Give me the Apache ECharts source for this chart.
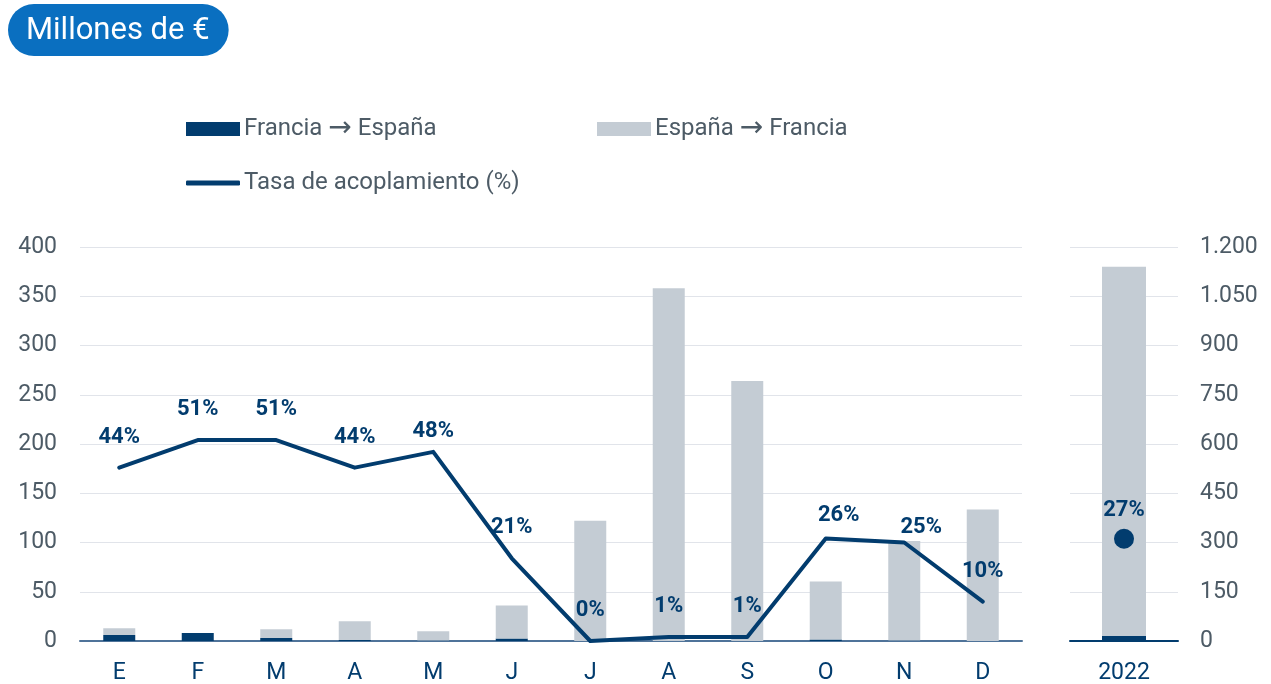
<!DOCTYPE html>
<html>
<head>
<meta charset="utf-8">
<script src="https://cdn.jsdelivr.net/npm/echarts@6/dist/echarts.min.js"></script>
<style>
  html, body { margin: 0; padding: 0; background: #fff; }
  #chart { width: 1271px; height: 684px; }
</style>
</head>
<body>
<div id="chart"></div>
<script>
const months = ['E', 'F', 'M', 'A', 'M', 'J', 'J', 'A', 'S', 'O', 'N', 'D']
const franciaEspana = [6, 8, 3, 1, 0.5, 2.5, 0, 0, 0, 1.5, 0.5, 0]
const espanaFrancia = [7, 0, 9, 19, 9.5, 33.5, 122, 358, 264, 59, 101, 133.5]
const tasa = [44, 51, 51, 44, 48, 21, 0, 1, 1, 26, 25, 10]
const leftTicks = { min: 0, max: 400, interval: 50 }

const yearCat = ['2022']
const franciaEspanaYear = [16]
const espanaFranciaYear = [1124]
const tasaYear = [27]
const rightTicks = { min: 0, max: 1200, interval: 150 }

const dark = '#023c6e'
const grey = '#c4ccd4'
const textGrey = '#4d5b66'
const fmtThousands = v => String(v).replace(/\B(?=(\d{3})+(?!\d))/g, '.')

// a few labels sit off their default place in the original
const labelNudge = { 4: [0, 10], 9: [13, 7], 10: [17, 15] }

const legendText = {
  color: textGrey,
  fontSize: 24,
  lineHeight: 28,
  padding: [0, 0, 0, -1],
  rich: { arr: { fontFamily: 'DejaVu Sans', fontSize: 28, lineHeight: 28, color: textGrey } }
}
const arrowFmt = name => name.replace('→', '{arr|→}')

const chart = echarts.init(document.getElementById('chart'))
chart.setOption({
  textStyle: { fontFamily: 'Roboto' },
  title: {
    text: 'Millones de €',
    left: 8,
    top: 4,
    padding: [9, 19, 7, 18],
    backgroundColor: '#0a6fc0',
    borderRadius: 26,
    textStyle: { color: '#fff', fontSize: 31, fontWeight: 'normal', lineHeight: 36, fontFamily: 'Roboto' }
  },
  legend: [{
    left: 186, top: 115, padding: 0, itemWidth: 54, itemHeight: 14, itemGap: 0,
    data: [{ name: 'Francia → España', icon: 'rect' }],
    formatter: arrowFmt,
    textStyle: legendText
  }, {
    left: 597, top: 115, padding: 0, itemWidth: 54, itemHeight: 14, itemGap: 0,
    data: [{ name: 'España → Francia', icon: 'rect' }],
    formatter: arrowFmt,
    textStyle: legendText
  }, {
    left: 186, top: 169, padding: 0, itemWidth: 54, itemHeight: 5, itemGap: 0,
    data: [{ name: 'Tasa de acoplamiento (%)', icon: 'roundRect' }],
    textStyle: legendText
  }],
  grid: [
    { left: 80, right: 249, top: 247, bottom: 43, outerBoundsMode: 'none', containLabel: false },
    { left: 1070, width: 108, top: 247, bottom: 43, outerBoundsMode: 'none', containLabel: false }
  ],
  xAxis: [{
    gridIndex: 0,
    type: 'category',
    data: months,
    axisTick: { show: false },
    axisLine: { lineStyle: { color: '#4f7399', width: 2 } },
    axisLabel: { color: dark, fontSize: 23, margin: 21 }
  }, {
    gridIndex: 1,
    type: 'category',
    data: yearCat,
    axisTick: { show: false },
    axisLine: { lineStyle: { color: dark, width: 2 } },
    axisLabel: { color: dark, fontSize: 23, margin: 21 }
  }],
  yAxis: [{
    gridIndex: 0,
    type: 'value',
    ...leftTicks,
    axisLabel: { color: textGrey, fontSize: 23, margin: 23 },
    splitLine: { lineStyle: { color: '#e1e4ea' } }
  }, {
    gridIndex: 0,
    type: 'value',
    min: 0, max: 100,
    show: false,
    splitLine: { show: false }
  }, {
    gridIndex: 1,
    type: 'value',
    position: 'right',
    ...rightTicks,
    axisLabel: { color: textGrey, fontSize: 23, margin: 22, formatter: fmtThousands },
    splitLine: { lineStyle: { color: '#e1e4ea' } }
  }, {
    gridIndex: 1,
    type: 'value',
    min: 0, max: 104,
    show: false,
    splitLine: { show: false }
  }],
  series: [{
    name: 'Francia → España',
    type: 'bar',
    xAxisIndex: 0, yAxisIndex: 0,
    stack: 'mes',
    barWidth: 32,
    data: franciaEspana,
    itemStyle: { color: dark }
  }, {
    name: 'España → Francia',
    type: 'bar',
    xAxisIndex: 0, yAxisIndex: 0,
    stack: 'mes',
    barWidth: 32,
    data: espanaFrancia,
    itemStyle: { color: grey }
  }, {
    name: 'Tasa de acoplamiento (%)',
    type: 'line',
    xAxisIndex: 0, yAxisIndex: 1,
    data: tasa.map((v, i) => labelNudge[i] ? { value: v, label: { offset: labelNudge[i] } } : v),
    symbol: 'circle',
    symbolSize: 1,
    lineStyle: { color: dark, width: 4, cap: 'round', join: 'round' },
    itemStyle: { color: dark },
    label: {
      show: true,
      position: 'top',
      distance: 19,
      color: dark,
      fontSize: 22,
      fontWeight: 'bold',
      formatter: p => p.value + '%'
    },
    z: 5
  }, {
    name: 'Francia → España',
    type: 'bar',
    xAxisIndex: 1, yAxisIndex: 2,
    stack: 'year',
    barWidth: 44,
    data: franciaEspanaYear,
    itemStyle: { color: dark }
  }, {
    name: 'España → Francia',
    type: 'bar',
    xAxisIndex: 1, yAxisIndex: 2,
    stack: 'year',
    barWidth: 44,
    data: espanaFranciaYear,
    itemStyle: { color: grey }
  }, {
    name: 'Tasa de acoplamiento (%)',
    type: 'scatter',
    xAxisIndex: 1, yAxisIndex: 3,
    data: tasaYear,
    symbolSize: 20,
    itemStyle: { color: dark, opacity: 1 },
    label: {
      show: true,
      position: 'top',
      distance: 7,
      color: dark,
      fontSize: 22,
      fontWeight: 'bold',
      formatter: p => p.value + '%'
    },
    z: 5
  }]
})
</script>
</body>
</html>
